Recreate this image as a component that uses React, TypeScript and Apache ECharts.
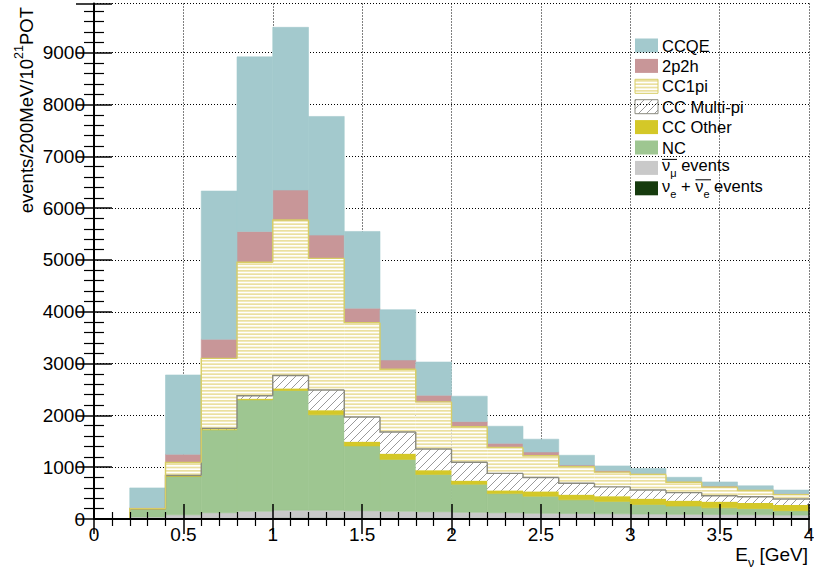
import React, { useEffect, useRef } from 'react';
import * as echarts from 'echarts';

// lower edges of the 0.2 GeV bins
const binLow = [0.2, 0.4, 0.6, 0.8, 1.0, 1.2, 1.4, 1.6, 1.8, 2.0, 2.2, 2.4, 2.6, 2.8, 3.0, 3.2, 3.4, 3.6, 3.8];
const binWidth = 0.2;

// per-bin events for each component (stacked bottom -> top)
const nueEvents = [5, 10, 15, 20, 22, 22, 20, 18, 17, 16, 15, 14, 13, 12, 12, 11, 10, 10, 10];
const numubarEvents = [35, 70, 105, 130, 148, 148, 140, 132, 123, 114, 105, 96, 92, 88, 83, 79, 75, 70, 65];
const ncEvents = [150, 740, 1600, 2150, 2310, 1840, 1250, 1000, 720, 540, 370, 330, 265, 240, 185, 160, 130, 120, 85];
const ccOtherEvents = [2, 10, 10, 20, 40, 90, 80, 110, 80, 70, 60, 90, 100, 100, 110, 100, 120, 110, 110];
const ccMultiPiEvents = [3, 10, 20, 60, 250, 390, 480, 420, 410, 355, 330, 270, 220, 180, 170, 160, 115, 120, 115];
const cc1piEvents = [5, 250, 1350, 2575, 3000, 2540, 1820, 1210, 910, 685, 500, 420, 320, 285, 300, 200, 165, 120, 85];
const twoP2hEvents = [20, 160, 370, 595, 580, 450, 280, 180, 130, 100, 80, 75, 30, 30, 20, 15, 20, 15, 20];
const ccqeEvents = [380, 1530, 2860, 3370, 3140, 2290, 1480, 970, 640, 490, 330, 245, 190, 90, 95, 80, 80, 75, 68];

const xTicks = [0, 0.5, 1, 1.5, 2, 2.5, 3, 3.5, 4];
const yMax = 9950;

const FONT = 'Liberation Sans, Arial, Helvetica, sans-serif';

function makeStripe(): HTMLCanvasElement {
  const c = document.createElement('canvas');
  c.width = 8;
  c.height = 10;
  const g = c.getContext('2d')!;
  g.fillStyle = '#ffffff';
  g.fillRect(0, 0, 8, 10);
  g.fillStyle = '#ebe0a0';
  for (let k = 0; k < 3; k++) g.fillRect(0, (k * 10) / 3, 8, 1.7);
  return c;
}

function makeHatch(): HTMLCanvasElement {
  const s = 8;
  const c = document.createElement('canvas');
  c.width = s;
  c.height = s;
  const g = c.getContext('2d')!;
  g.fillStyle = '#ffffff';
  g.fillRect(0, 0, s, s);
  g.strokeStyle = '#9a9a9a';
  g.lineWidth = 1;
  g.beginPath();
  g.moveTo(0, s);
  g.lineTo(s, 0);
  g.moveTo(-1, 1);
  g.lineTo(1, -1);
  g.moveTo(s - 1, s + 1);
  g.lineTo(s + 1, s - 1);
  g.stroke();
  return c;
}

export default function App() {
  const ref = useRef<HTMLDivElement>(null);

  useEffect(() => {
    if (!ref.current) return;
    const chart = echarts.init(ref.current, null, { renderer: 'svg' });
    const stripe = { image: makeStripe(), repeat: 'repeat' };
    const hatch = { image: makeHatch(), repeat: 'repeat' };

    const comps: any[] = [
      { name: 'νe + anti-νe events', values: nueEvents, fill: '#163b0e', edge: '#163b0e', outline: null },
      { name: 'anti-νμ events', values: numubarEvents, fill: '#c9c9c9', edge: '#c9c9c9', outline: null },
      { name: 'NC', values: ncEvents, fill: '#9ec691', edge: '#9ec691', outline: null },
      { name: 'CC Other', values: ccOtherEvents, fill: '#d4c828', edge: '#d4c828', outline: null },
      { name: 'CC Multi-pi', values: ccMultiPiEvents, fill: hatch, edge: null, outline: '#8a8a7e' },
      { name: 'CC1pi', values: cc1piEvents, fill: stripe, edge: null, outline: '#d8ce66' },
      { name: '2p2h', values: twoP2hEvents, fill: '#c89698', edge: '#c89698', outline: null },
      { name: 'CCQE', values: ccqeEvents, fill: '#a3c9cd', edge: '#a3c9cd', outline: null },
    ];

    let cum = binLow.map(() => 0);
    const series = comps.map((c) => {
      const base = cum.slice();
      const top = base.map((b, i) => b + c.values[i]);
      cum = top;
      const data = binLow.map((x, i) => [x, x + binWidth, base[i], top[i], i > 0 ? top[i - 1] : 0]);
      return {
        type: 'custom',
        name: c.name,
        xAxisIndex: 0,
        yAxisIndex: 0,
        clip: true,
        data,
        encode: { x: [0, 1], y: [2, 3] },
        renderItem: (params: any, api: any) => {
          const x0 = api.value(0);
          const x1 = api.value(1);
          const b = api.value(2);
          const t = api.value(3);
          const pt = api.value(4);
          const tl = api.coord([x0, t]);
          const br = api.coord([x1, b]);
          const children: any[] = [
            {
              type: 'rect',
              shape: { x: tl[0], y: tl[1], width: br[0] - tl[0], height: br[1] - tl[1] },
              style: c.edge
                ? { fill: c.fill, stroke: c.edge, lineWidth: 0.6 }
                : { fill: c.fill },
            },
          ];
          if (c.outline) {
            const pp = api.coord([x0, pt]);
            const tr = api.coord([x1, t]);
            children.push({
              type: 'polyline',
              z2: 20,
              shape: { points: [pp, tl, tr] },
              style: { stroke: c.outline, lineWidth: 1.4, fill: null },
            });
          }
          return { type: 'group', children };
        },
      };
    });

    // legend (graphic)
    const legendOrder = [7, 6, 5, 4, 3, 2, 1, 0];
    const legendText = [
      'CCQE',
      '2p2h',
      'CC1pi',
      'CC Multi-pi',
      'CC Other',
      'NC',
      '{m|ν}{s|μ}{m| events}',
      '{m|ν}{s|e}{m| + ν}{s|e}{m| events}',
    ];
    // overbars (anti-neutrino marks) for legend rows: [row, x start, x end]
    const overbars = [
      [6, 662, 677],
      [7, 695.5, 711],
    ];
    const legendEls: any[] = [];
    legendOrder.forEach((ci, k) => {
      const c = comps[ci];
      const cy = 45.5 + 20.4 * k;
      legendEls.push({
        type: 'rect',
        shape: { x: 635, y: cy - 7, width: 23, height: 14 },
        style: c.outline
          ? { fill: c.fill, stroke: c.outline, lineWidth: 1 }
          : { fill: c.fill },
      });
      legendEls.push({
        type: 'text',
        x: 662,
        y: cy,
        style: {
          text: legendText[k],
          fontSize: 16.5,
          fontFamily: FONT,
          fill: '#000',
          verticalAlign: 'middle',
          align: 'left',
          rich: {
            m: { fontSize: 16.5, fontFamily: FONT, lineHeight: 22, verticalAlign: 'top', fill: '#000' },
            s: { fontSize: 11, fontFamily: FONT, lineHeight: 11, verticalAlign: 'bottom', fill: '#000' },
          },
        },
      });
    });
    overbars.forEach(([row, xs, xe]) => {
      const cy = 45.5 + 20.4 * row;
      legendEls.push({
        type: 'line',
        shape: { x1: xs, y1: cy - 8.5, x2: xe, y2: cy - 8.5 },
        style: { stroke: '#000', lineWidth: 1 },
      });
    });

    const option: any = {
      animation: false,
      backgroundColor: '#ffffff',
      grid: { left: 94, right: 5, top: 3.5, bottom: 53, containLabel: false, outerBoundsMode: 'none' },
      xAxis: [
        {
          type: 'value', position: 'bottom', min: xTicks[0], max: xTicks[xTicks.length - 1], interval: 0.5,
          axisLine: { show: false }, axisTick: { show: false },
          axisLabel: { show: true, margin: 6, fontSize: 19, fontFamily: FONT, color: '#000', formatter: (v: number) => String(v) },
          splitLine: { show: true, lineStyle: { color: '#000', width: 1, type: [1, 2] } },
        },
        {
          type: 'value', position: 'bottom', min: 0, max: 4, interval: 0.5, z: 10,
          axisLine: { show: true, lineStyle: { color: '#000', width: 2 } },
          axisTick: { show: true, inside: true, length: 15, lineStyle: { color: '#000', width: 1.5 } },
          minorTick: { show: true, splitNumber: 5, length: 7, lineStyle: { color: '#000', width: 1.2 } },
          axisLabel: { show: false }, splitLine: { show: false },
        },
        {
          type: 'value', position: 'top', min: 0, max: 4, interval: 0.5, z: 10,
          axisLine: { show: true, lineStyle: { color: '#000', width: 1.5 } },
          axisTick: { show: true, inside: true, length: 15, lineStyle: { color: '#000', width: 1.5 } },
          minorTick: { show: true, splitNumber: 5, length: 7, lineStyle: { color: '#000', width: 1.2 } },
          axisLabel: { show: false }, splitLine: { show: false },
        },
      ],
      yAxis: [
        {
          type: 'value', position: 'left', min: 0, max: yMax, interval: 1000,
          axisLine: { show: false }, axisTick: { show: false },
          axisLabel: { show: true, margin: 9, fontSize: 19, fontFamily: FONT, color: '#000', showMaxLabel: false, formatter: (v: number) => String(v) },
          splitLine: { show: true, lineStyle: { color: '#000', width: 1, type: [1, 2] } },
        },
        {
          type: 'value', position: 'left', min: 0, max: yMax, interval: 1000, z: 10,
          axisLine: { show: true, lineStyle: { color: '#000', width: 2 } },
          axisTick: { show: true, inside: true, length: 18, lineStyle: { color: '#000', width: 1.5 } },
          minorTick: { show: true, splitNumber: 5, length: 10, lineStyle: { color: '#000', width: 1.2 } },
          axisLabel: { show: false }, splitLine: { show: false },
        },
        {
          type: 'value', position: 'right', min: 0, max: yMax, interval: 1000, z: 10,
          axisLine: { show: true, lineStyle: { color: '#000', width: 1.5 } },
          axisTick: { show: true, inside: true, length: 18, lineStyle: { color: '#000', width: 1.5 } },
          minorTick: { show: true, splitNumber: 5, length: 10, lineStyle: { color: '#000', width: 1.2 } },
          axisLabel: { show: false }, splitLine: { show: false },
        },
      ],
      series,
      graphic: [
        {
          type: 'text',
          x: 24,
          y: 7,
          rotation: Math.PI / 2,
          style: {
            text: '{m|events/200MeV/10}{u|21}{m|POT}',
            align: 'right',
            verticalAlign: 'middle',
            fontFamily: FONT,
            fontSize: 18,
            fill: '#000',
            rich: {
              m: { fontSize: 18.5, fontFamily: FONT, lineHeight: 24, verticalAlign: 'bottom', fill: '#000' },
              u: { fontSize: 12.5, fontFamily: FONT, lineHeight: 12, verticalAlign: 'top', fill: '#000' },
            },
          },
        },
        {
          type: 'text',
          x: 808,
          y: 557,
          style: {
            text: '{m|E}{s|ν}{m| [GeV]}',
            align: 'right',
            verticalAlign: 'middle',
            fontFamily: FONT,
            fontSize: 19,
            fill: '#000',
            rich: {
              m: { fontSize: 19, fontFamily: FONT, lineHeight: 24, verticalAlign: 'top', fill: '#000' },
              s: { fontSize: 12.5, fontFamily: FONT, lineHeight: 12, verticalAlign: 'bottom', fill: '#000' },
            },
          },
        },
        ...legendEls,
      ],
    };

    chart.setOption(option);
    return () => chart.dispose();
  }, []);

  return (
    <div
      ref={ref}
      style={{ position: 'fixed', left: 0, top: 0, width: 814, height: 572, background: '#fff' }}
    />
  );
}
